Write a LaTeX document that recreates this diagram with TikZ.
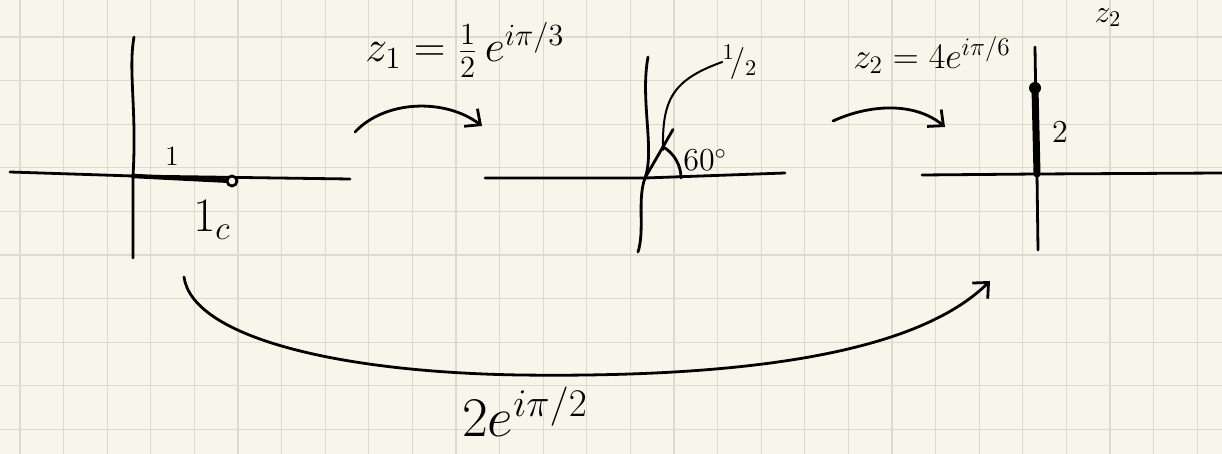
\documentclass[tikz,border=0pt]{standalone}
\usepackage{fix-cm}
\usetikzlibrary{arrows.meta}
\definecolor{paper}{HTML}{F8F6EA}
\definecolor{gridc}{HTML}{DCDBCF}
\tikzset{pen/.style={line width=1.4pt,line cap=round,line join=round},axis/.style={pen},map/.style={pen,-{Straight Barb[length=6pt,width=11pt]}},lbl/.style={inner sep=0pt,font=\fontsize{#1}{#1}\selectfont},lbl/.default=20}

\begin{document}
\begin{tikzpicture}[x=0.5pt,y=-0.5pt]
\fill[paper] (0,0) rectangle (1222,454);\useasboundingbox (0,0) rectangle (1222,454);
\foreach \gx in {0,...,27} \draw[gridc,line width=0.6pt] (20+43.6*\gx,0) -- (20+43.6*\gx,454);
\foreach \gy in {0,...,9} \draw[gridc,line width=0.6pt] (0,37+43.6*\gy) -- (1222,37+43.6*\gy);
% plane 1
\coordinate (o1) at (133,176);\coordinate (p1) at (232,181);
\draw[axis] (10,172) -- (o1) -- (350,179);\draw[axis] (134,37) .. controls (128,70) and (137,110) .. (o1) -- (133,258);
\draw[pen,line width=2.2pt] (o1) -- (p1);\draw[pen,fill=paper] (p1) circle[radius=5];
\node[lbl=14] (one) at (172,156) {$1$};\node[lbl=24] (unit) at (212,220) {$1_{c}$};
% first map
\coordinate (a1s) at (355,132);\coordinate (a1e) at (482,126);
\draw[map] (a1s) .. controls (385,100) and (445,98) .. (a1e);
\node[lbl=22] (z1) at (465,50) {$z_1=\frac{1}{2}\,e^{i\pi/3}$};
% plane 2
\coordinate (o2) at (645,178);
\draw[axis] (485,178) -- (o2) -- (785,173);\draw[axis] (648,57) .. controls (640,100) and (655,150) .. (o2) .. controls (637,200) and (645,230) .. (638,252);
\draw[pen] (o2) -- ++(-60:56) coordinate (r2);\draw[pen] (o2) ++(36,0) arc[start angle=0,end angle=-60,radius=36];
\node[lbl=16,anchor=west] (ang) at (683,160) {$60^\circ$};
\node[lbl=16] (half) at (740,62) {${}^1\!/_2$};\draw[pen,line width=1pt] (half.west) .. controls (672,80) and (662,100) .. (663,150);
% second map
\coordinate (a2s) at (833,121);\coordinate (a2e) at (945,127);
\draw[map] (a2s) .. controls (870,104) and (915,102) .. (a2e);
\node[lbl=18] (z2) at (932,55) {$z_2=4e^{i\pi/6}$};\node[lbl=16,anchor=north] (z2cut) at (1108,8) {$z_2$};
% plane 3
\coordinate (o3) at (1037,174);
\draw[axis] (922,175) -- (o3) -- (1222,173);\draw[axis] (1035,47) -- (o3) -- (1038,250);
\draw[pen,line width=3.5pt] (o3) -- (1035,88) coordinate (p3);\fill (p3) circle[radius=6];
\node[lbl=16] (two) at (1060,132) {$2$};
% composite map
\coordinate (b1) at (184,277);\coordinate (b2) at (990,281);
\draw[map] (b1) .. controls (192,335) and (330,372) .. (520,375) .. controls (760,378) and (920,350) .. (b2);
\node[lbl=28] (z3) at (525,412) {$2e^{i\pi/2}$};
\end{tikzpicture}
\end{document}
